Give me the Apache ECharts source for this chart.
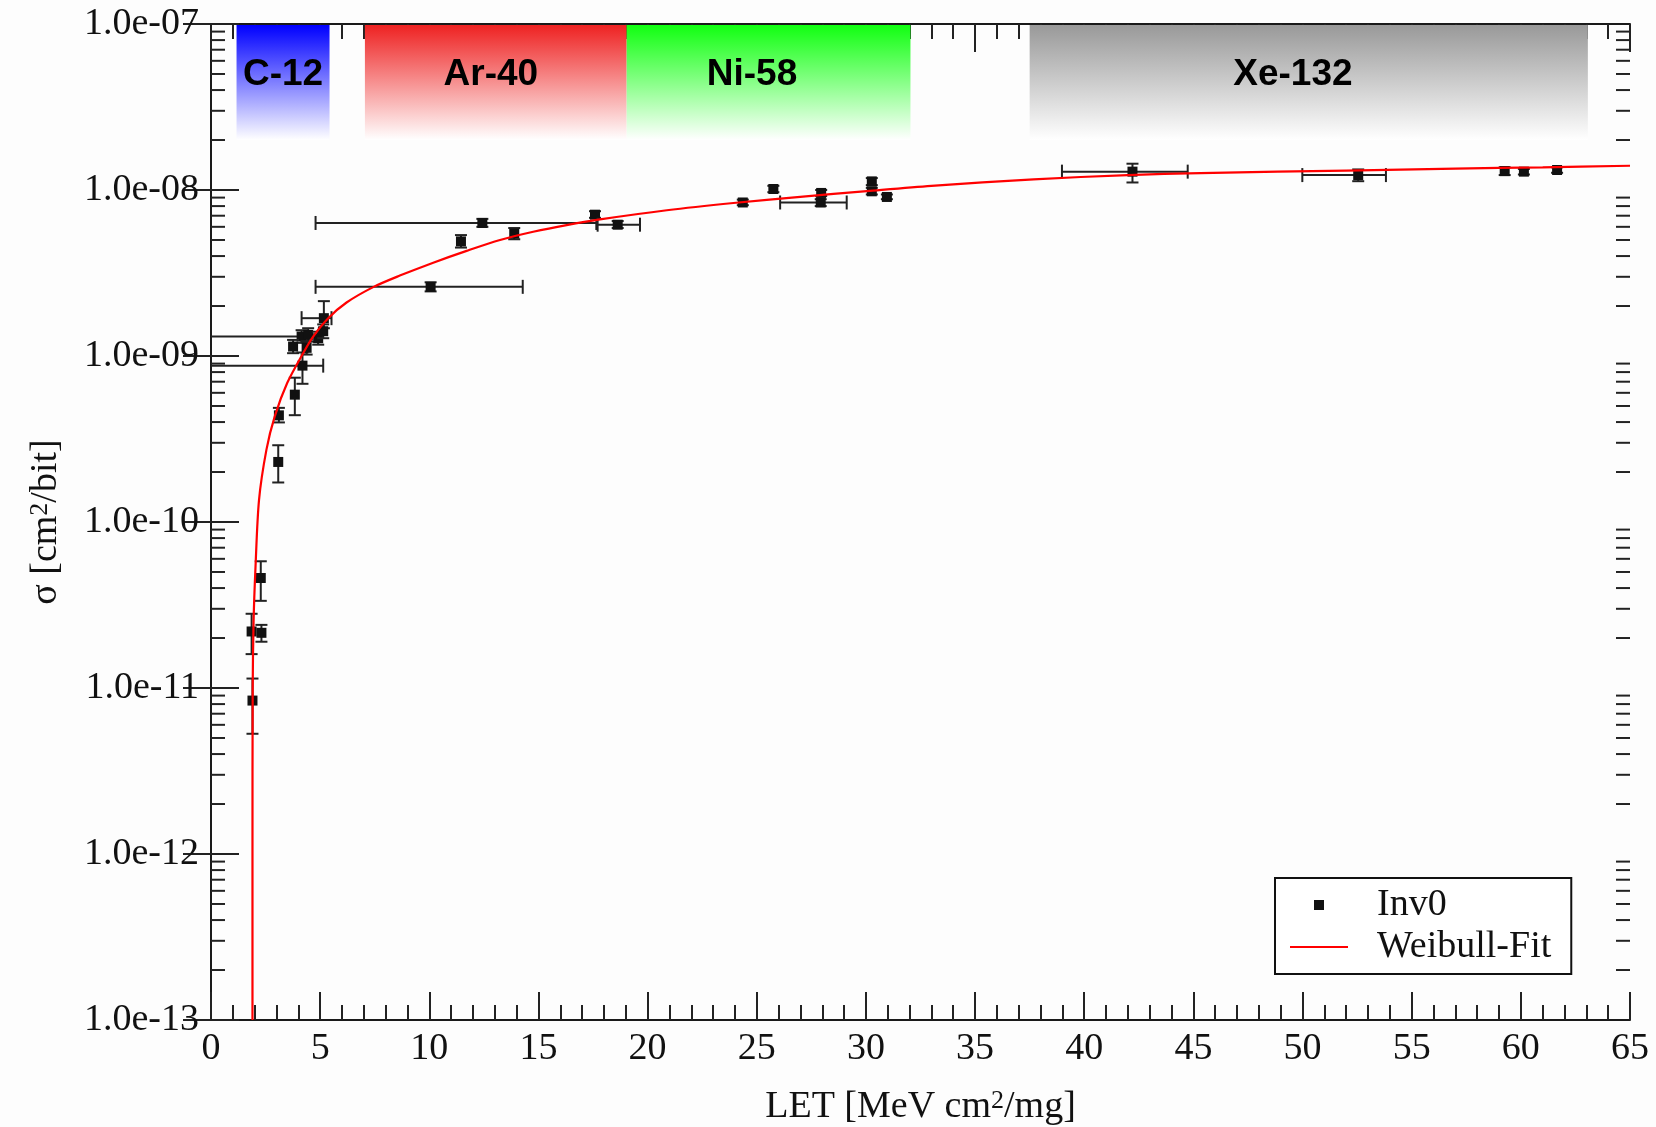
<!DOCTYPE html>
<html><head><meta charset="utf-8">
<script src="https://cdn.jsdelivr.net/npm/echarts@6/dist/echarts.min.js"></script>
<style>html,body{margin:0;padding:0;background:#fdfdfd}#c{width:1656px;height:1127px}</style>
</head><body><div id="c"></div>
<script>
// ---- measured points (Inv0) ----
const letVals   = [1.90, 1.86, 2.31, 2.28, 3.08, 3.11, 3.84, 4.19, 4.15, 4.45, 3.76, 4.38, 4.91, 5.17, 5.14, 10.06, 11.45, 12.43, 13.89, 17.59, 18.63, 24.36, 25.76, 27.93, 27.95, 30.27, 30.27, 30.96, 42.21, 52.55, 59.26, 60.14, 61.66];
const sigmaVals = [8.4e-12, 2.19e-11, 2.15e-11, 4.6e-11, 2.30e-10, 4.39e-10, 5.85e-10, 8.75e-10, 1.31e-9, 1.34e-9, 1.14e-9, 1.12e-9, 1.28e-9, 1.69e-9, 1.41e-9, 2.61e-9, 4.90e-9, 6.33e-9, 5.46e-9, 7.1e-9, 6.18e-9, 8.41e-9, 1.014e-8, 8.41e-9, 9.6e-9, 1.127e-8, 9.82e-9, 9.08e-9, 1.29e-8, 1.23e-8, 1.30e-8, 1.29e-8, 1.32e-8];
const letErrLo  = [null, null, null, null, null, null, null, -2.0, -2.0, null, null, null, null, 4.15, null, 4.79, null, 4.79, null, null, 17.71, null, null, 26.07, null, null, null, null, 38.98, 49.99, null, null, null];
const letErrHi  = [null, null, null, null, null, null, null, 5.14, 4.9, null, null, null, null, 5.52, null, 14.28, null, 17.65, null, null, 19.65, null, null, 29.12, null, null, null, null, 44.74, 53.82, null, null, null];
const sigErrLo  = [5.3e-12, 1.6e-11, 1.9e-11, 3.35e-11, 1.73e-10, 3.98e-10, 4.4e-10, 6.8e-10, 1.2e-9, 1.22e-9, 1.04e-9, 1.02e-9, 1.17e-9, 1.47e-9, 1.28e-9, 2.45e-9, 4.5e-9, 6.0e-9, 5.05e-9, 6.8e-9, 5.9e-9, 8.1e-9, 9.7e-9, 8.0e-9, 9.2e-9, 1.07e-8, 9.4e-9, 8.8e-9, 1.11e-8, 1.13e-8, 1.23e-8, 1.24e-8, 1.27e-8];
const sigErrHi  = [1.14e-11, 2.8e-11, 2.4e-11, 5.8e-11, 2.9e-10, 4.87e-10, 7.4e-10, 1.05e-9, 1.43e-9, 1.47e-9, 1.25e-9, 1.23e-9, 1.40e-9, 2.14e-9, 1.55e-9, 2.78e-9, 5.35e-9, 6.7e-9, 5.9e-9, 7.45e-9, 6.5e-9, 8.75e-9, 1.06e-8, 8.8e-9, 1.0e-8, 1.18e-8, 1.03e-8, 9.4e-9, 1.44e-8, 1.33e-8, 1.37e-8, 1.34e-8, 1.37e-8];

// ---- Weibull fit curve ----
const fitLet   = [1.90, 1.90, 1.91, 1.95, 2.04, 2.20, 2.54, 2.92, 3.49, 4.22, 4.68, 5.37, 6.21, 7.43, 8.65, 10.18, 11.71, 13.24, 14.76, 16.29, 17.82, 20.88, 23.93, 26.99, 30.04, 33.0, 37.68, 42.0, 45.32, 48.86, 52.0, 57.0, 61.0, 65.0];
const fitSigma = [1.0e-13, 1.0e-12, 1.0e-11, 2.5e-11, 5.4e-11, 1.36e-10, 2.73e-10, 4.33e-10, 6.87e-10, 1.04e-9, 1.31e-9, 1.69e-9, 2.10e-9, 2.60e-9, 3.05e-9, 3.65e-9, 4.30e-9, 5.0e-9, 5.6e-9, 6.15e-9, 6.65e-9, 7.55e-9, 8.35e-9, 9.1e-9, 9.85e-9, 1.06e-8, 1.16e-8, 1.23e-8, 1.265e-8, 1.29e-8, 1.31e-8, 1.345e-8, 1.37e-8, 1.40e-8];

// ---- ion bands ----
const bandNames   = ['C-12', 'Ar-40', 'Ni-58', 'Xe-132'];
const bandStart   = [1.17, 7.05, 19.04, 37.5];
const bandEnd     = [5.43, 19.04, 32.04, 63.07];
const bandLabelAt = [3.30, 12.82, 24.78, 49.56];
const bandColors  = ['#0000ff', '#ee2222', '#11ff11', '#999999'];
const bandTop = 1e-7, bandBottom = 2.0e-8;

// ---- axes ----
const xMin = 0, xMax = 65, xStep = 5;
const yMin = 1e-13, yMax = 1e-7;
const yMinorTicks = [];
for (let e = -13; e <= -8; e++) for (let k = 2; k <= 9; k++) yMinorTicks.push(k * Math.pow(10, e));

const serif = '"Liberation Serif", "Times New Roman", serif';
const ink = '#1a1a1a';

function yLabel(v) {
  const e = Math.round(Math.log10(v));
  return '1.0e' + (e < 0 ? '-' : '+') + String(Math.abs(e)).padStart(2, '0');
}

function renderPoints(params, api) {
  const i = params.dataIndex;
  const L = letVals[i], s = sigmaVals[i];
  const c = api.coord([L, s]);
  const st = {stroke: '#222', lineWidth: 2};
  const kids = [];
  if (sigErrLo[i] != null) {
    const a = api.coord([L, sigErrLo[i]]), b = api.coord([L, sigErrHi[i]]);
    kids.push({type: 'line', shape: {x1: c[0], y1: a[1], x2: c[0], y2: b[1]}, style: st});
    kids.push({type: 'line', shape: {x1: c[0] - 6, y1: a[1], x2: c[0] + 6, y2: a[1]}, style: st});
    kids.push({type: 'line', shape: {x1: c[0] - 6, y1: b[1], x2: c[0] + 6, y2: b[1]}, style: st});
  }
  if (letErrLo[i] != null) {
    const a = api.coord([letErrLo[i], s]), b = api.coord([letErrHi[i], s]);
    kids.push({type: 'line', shape: {x1: a[0], y1: c[1], x2: b[0], y2: c[1]}, style: st});
    kids.push({type: 'line', shape: {x1: a[0], y1: c[1] - 7, x2: a[0], y2: c[1] + 7}, style: st});
    kids.push({type: 'line', shape: {x1: b[0], y1: c[1] - 7, x2: b[0], y2: c[1] + 7}, style: st});
  }
  kids.push({type: 'rect', shape: {x: c[0] - 5, y: c[1] - 5, width: 10, height: 10}, style: {fill: '#111'}});
  return {type: 'group', children: kids};
}

function renderBands(params, api) {
  const i = params.dataIndex;
  const p1 = api.coord([bandStart[i], bandTop]);
  const p2 = api.coord([bandEnd[i], bandBottom]);
  const lx = api.coord([bandLabelAt[i], bandTop])[0];
  const top = p1[1] + 1;
  return {
    type: 'group',
    children: [
      {type: 'rect', shape: {x: p1[0], y: top, width: p2[0] - p1[0], height: p2[1] - top},
       style: {fill: {type: 'linear', x: 0, y: 0, x2: 0, y2: 1,
         colorStops: [{offset: 0, color: bandColors[i]}, {offset: 1, color: '#ffffff'}]}}},
      {type: 'text', x: lx, y: top + 50,
       style: {text: bandNames[i], fill: '#000', align: 'center', verticalAlign: 'middle',
         font: 'bold 37px "Liberation Sans", Arial, sans-serif'}}
    ]
  };
}

function renderMinorY(params, api) {
  const v = yMinorTicks[params.dataIndex];
  const y = api.coord([xMin, v])[1];
  const cs = params.coordSys;
  const st = {stroke: '#222', lineWidth: 2};
  return {type: 'group', children: [
    {type: 'line', shape: {x1: cs.x, y1: y, x2: cs.x + 14, y2: y}, style: st},
    {type: 'line', shape: {x1: cs.x + cs.width - 14, y1: y, x2: cs.x + cs.width, y2: y}, style: st}
  ]};
}

const xAxisBase = {
  type: 'value', min: xMin, max: xMax, interval: xStep,
  axisLine: {show: true, lineStyle: {color: ink, width: 2}},
  axisTick: {show: true, inside: true, length: 28, lineStyle: {color: '#222', width: 2}},
  minorTick: {show: true, splitNumber: 5, length: 15, lineStyle: {color: '#222', width: 2}},
  splitLine: {show: false}
};
const yAxisBase = {
  type: 'log', logBase: 10, min: yMin, max: yMax,
  axisLine: {show: true, lineStyle: {color: ink, width: 2}},
  axisTick: {show: true, inside: true, length: 28, lineStyle: {color: '#222', width: 2}},
  minorTick: {show: false},
  splitLine: {show: false}
};
const nameRich = {
  n:   {fontFamily: serif, fontSize: 38, lineHeight: 38, verticalAlign: 'bottom', color: '#111'},
  sup: {fontFamily: serif, fontSize: 26, lineHeight: 10, verticalAlign: 'top', color: '#111'}
};

const chart = echarts.init(document.getElementById('c'), null, {renderer: 'canvas'});
chart.setOption({
  animation: false,
  backgroundColor: '#fdfdfd',
  grid: {left: 211, right: 26, top: 24, bottom: 107, containLabel: false, outerBoundsMode: 'none'},
  xAxis: [
    Object.assign({}, xAxisBase, {
      position: 'bottom',
      axisLabel: {show: true, margin: 10, fontFamily: serif, fontSize: 38, color: '#111'},
      name: '{n|LET [MeV cm}{sup|2}{n|/mg]}', nameLocation: 'middle', nameGap: 68, nameMoveOverlap: false,
      nameTextStyle: {fontFamily: serif, fontSize: 38, color: '#111', verticalAlign: 'top', rich: nameRich}
    }),
    Object.assign({}, xAxisBase, {position: 'top', axisLabel: {show: false}})
  ],
  yAxis: [
    Object.assign({}, yAxisBase, {
      position: 'left',
      axisLabel: {show: true, margin: 12, fontFamily: serif, fontSize: 38, color: '#111', formatter: yLabel},
      name: '{n|\u03c3 [cm}{sup|2}{n|/bit]}', nameLocation: 'middle', nameGap: 146, nameRotate: 90, nameMoveOverlap: false,
      nameTextStyle: {fontFamily: serif, fontSize: 38, color: '#111', verticalAlign: 'bottom', rich: nameRich}
    }),
    Object.assign({}, yAxisBase, {position: 'right', axisLabel: {show: false}})
  ],
  legend: {
    left: 1275, top: 878, orient: 'vertical',
    borderColor: '#111', borderWidth: 2, borderRadius: 0, backgroundColor: '#ffffff',
    padding: [8, 20, 8, 15], itemGap: 4, itemWidth: 58, itemHeight: 10,
    textStyle: {fontFamily: serif, fontSize: 38, color: '#111', padding: [0, 0, 0, 24]},
    data: [{name: 'Inv0', icon: 'path://M0,0L10,0L10,10L0,10Z'},
           {name: 'Weibull-Fit', icon: 'path://M0,0L58,0L58,2L0,2Z'}]
  },
  series: [
    {
      type: 'custom', name: 'minorTicksY', silent: true, z: 1,
      renderItem: renderMinorY,
      data: yMinorTicks.map(v => [xMin, v])
    },
    {
      type: 'custom', name: 'Inv0', clip: true, z: 3,
      itemStyle: {color: '#111'},
      renderItem: renderPoints,
      data: letVals.map((v, i) => [v, sigmaVals[i]])
    },
    {
      type: 'line', name: 'Weibull-Fit', z: 4,
      data: fitLet.map((v, i) => [v, fitSigma[i]]),
      smooth: 0.3, symbol: 'none', showSymbol: false,
      lineStyle: {color: '#ff0000', width: 2.2}, itemStyle: {color: '#ff0000'}
    },
    {
      type: 'custom', name: 'bands', silent: true, z: 5,
      renderItem: renderBands,
      data: bandNames.map((n, i) => [bandStart[i], bandEnd[i]])
    }
  ]
});
</script>
</body></html>
